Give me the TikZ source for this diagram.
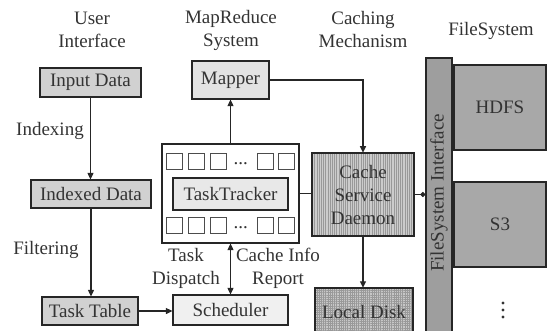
\documentclass[tikz,border=0pt]{standalone}
\usepackage{fontspec}
\setmainfont{Liberation Serif}
\usetikzlibrary{arrows.meta,patterns.meta}
\begin{document}
\begin{tikzpicture}[x=1pt,y=-1pt,
  every node/.style={font=\fontsize{19}{23}\selectfont, text=black!80, inner sep=0pt},
  box/.style={draw=black!85, line width=1.2pt, minimum width=#1},
  box/.default=80pt,
  slot/.style={draw=black!70, line width=0.8pt, fill=white, minimum width=16pt, minimum height=16pt},
  flow/.style={draw=black!85, line width=1.1pt, -{Triangle[length=6.5pt,width=6pt]}},
  link/.style={draw=black!85, line width=1.1pt},
  lbl/.style={align=center}
]
\useasboundingbox (0,0) rectangle (548,330);
\clip (0,0) rectangle (548,330);

% column headings
\node[lbl] (hUser) at (92,30) {User\\Interface};
\node[lbl] (hMR) at (231,30) {MapReduce\\System};
\node[lbl] (hCache) at (363,29) {Caching\\Mechanism};
\node[lbl] (hFS) at (491,31) {FileSystem};

% user interface column
\node[box=101pt, minimum height=29pt, fill=black!18] (inp) at (90.5,82.5) {Input Data};
\node[box=120pt, minimum height=28pt, fill=black!18] (idx) at (91,194) {Indexed Data};
\node[box=96pt, minimum height=28pt, fill=black!18] (ttab) at (90,311) {Task Table};
\node (lIdx) at (50,131) {Indexing};
\node (lFil) at (46,250) {Filtering};

% MapReduce column
\node[box=77pt, minimum height=38pt, fill=black!11] (map) at (230.5,80) {Mapper};
\node[box=137pt, minimum height=99pt, fill=white] (trk) at (230.5,193.5) {};
\node[box=115pt, minimum height=32pt, fill=black!9] (tracker) at (230.5,194) {TaskTracker};
\foreach \r/\y in {a/161,b/225}{
  \foreach \i/\x in {1/174,2/196,3/218,4/265.5,5/286.5}{
    \node[slot] (slot\r\i) at (\x,\y) {};
  }
  \node (dots\r) at (240.7,\y+3) {...};
}
\node[box=115pt, minimum height=30pt, fill=black!6] (sch) at (230.5,310) {Scheduler};
\node[lbl] (lDisp) at (186,268.5) {Task\\Dispatch};
\node[lbl] (lRep) at (278,268.5) {Cache Info\\Report};

% caching column
\node[box=102pt, minimum height=83pt, preaction={fill=black!20},
      pattern={Lines[angle=90,distance=2.2pt,line width=0.6pt]}, pattern color=black!40,
      align=center] (csd) at (363,194.5) {Cache\\Service\\Daemon};
\node[box=98pt, minimum height=47pt, preaction={fill=black!22},
      pattern={Hatch[angle=0,distance=2.2pt,line width=0.45pt]}, pattern color=black!40] (ld) at (364,311.5) {};
\node (ldText) at (364,312) {Local Disk};

% file system column
\node[box=26pt, minimum height=277pt, fill=black!38] (fsi) at (439,196.5) {};
\node[rotate=90] (fsiText) at (439,193) {FileSystem Interface};
\node[box=92pt, minimum height=85pt, fill=black!34] (hdfs) at (500,107.5) {HDFS};
\node[box=92pt, minimum height=85pt, fill=black!34] (s3) at (500,224.5) {S3};
% further file systems
\coordinate (more) at (503,310);
\foreach \d in {-7,0,7}
  \fill[black!80] ([yshift=\d pt]more) circle (1.6pt);

% connectors
\draw[flow] (inp.south) -- (inp.south |- idx.north);
\draw[flow] (idx.south) -- (idx.south |- ttab.north);
\draw[flow] (ttab.east) -- (ttab.east -| sch.west);
\draw[flow] (trk.north) -- (map.south);
\draw[flow] (map.east) -| (csd.north);
\draw[link] (trk.east) -- (trk.east -| csd.west);
\draw[flow] (csd.south) -- (csd.south |- ld.north);
\draw[link, -{Circle[length=5pt]}] (csd.east) -- (csd.east -| fsi.west);
\draw[flow, {Triangle[length=6.5pt,width=6pt]}-{Triangle[length=6.5pt,width=6pt]}] (trk.south) -- (sch.north);
\end{tikzpicture}
\end{document}
